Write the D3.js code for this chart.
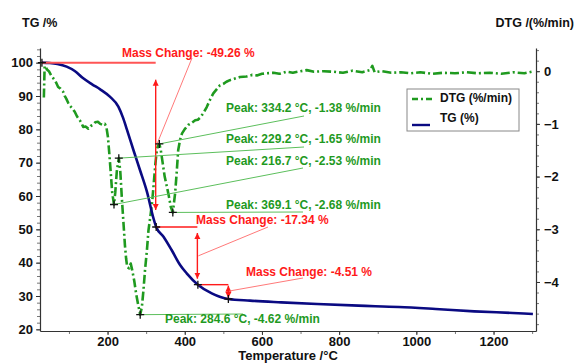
<!DOCTYPE html>
<html>
<head>
<meta charset="utf-8">
<script src="https://cdn.jsdelivr.net/npm/d3@7/dist/d3.min.js"></script>
<style>
  html, body { margin: 0; padding: 0; background: #fff; }
  svg { display: block; font-family: "Liberation Sans", Arial, sans-serif; font-weight: bold; }
</style>
</head>
<body>
<svg id="chart" width="579" height="363"></svg>
<script>
// ---------- DATA ----------
const tgT = [30, 50, 70, 94, 115, 137, 160, 181, 206, 228, 240, 250, 267, 284, 302, 319, 326, 345, 366, 388, 405, 434, 470, 513, 569, 650, 743, 850, 955, 1050, 1150, 1250, 1302];
const tgV = [100, 99.9, 99.6, 98.8, 97.5, 95.3, 93.5, 92.0, 89.8, 86.8, 83.5, 80.0, 73.8, 67.8, 61.3, 53.3, 50.7, 47.8, 43.8, 39.3, 36.8, 33.4, 30.8, 29.1, 28.6, 28.1, 27.6, 27.1, 26.7, 26.1, 25.4, 24.9, 24.6];

const dtgT = [35, 37, 40, 43, 48, 54, 58, 63, 67, 72, 78, 85, 89, 93, 98, 102, 108, 115, 121, 128, 132, 137, 143, 150, 156, 162, 168, 175, 181, 188, 193, 197, 201, 205, 209, 212, 216.7, 220, 224, 229.2, 233, 237, 241, 245, 248, 251, 256, 260, 264, 269, 274, 279, 284.6, 289, 293, 297, 302, 306, 311, 316, 320, 324, 328, 331, 334.2, 338, 343, 348, 354, 359, 364, 369.1, 375, 379, 383, 388, 393, 400, 409, 418, 427, 434, 440, 448, 457, 465, 474, 482, 491, 500, 508, 517, 530, 543, 560, 575, 587, 600, 612, 630, 645, 664, 680, 700, 716, 735, 760, 784, 810, 835, 860, 880, 886, 892, 910, 935, 960, 985, 1010, 1040, 1070, 1100, 1130, 1160, 1190, 1220, 1250, 1280, 1300];
const dtgV = [-0.5, 0.1, 0.08, 0.03, 0.0, -0.08, -0.12, -0.17, -0.22, -0.3, -0.33, -0.39, -0.47, -0.52, -0.6, -0.65, -0.7, -0.77, -0.86, -0.93, -0.98, -1.06, -1.05, -1.09, -1.04, -1.02, -0.97, -0.96, -1.0, -1.02, -1.0, -1.06, -1.25, -1.6, -2.0, -2.3, -2.53, -2.3, -1.9, -1.65, -1.9, -2.4, -2.85, -3.3, -3.55, -3.72, -3.74, -3.65, -3.78, -3.97, -4.22, -4.42, -4.62, -4.47, -4.16, -3.78, -3.4, -3.02, -2.75, -2.45, -2.1, -1.75, -1.48, -1.41, -1.38, -1.5, -1.75, -2.0, -2.2, -2.38, -2.58, -2.68, -2.32, -1.94, -1.5, -1.3, -1.18, -1.1, -1.02, -0.98, -0.93, -0.92, -0.88, -0.8, -0.68, -0.55, -0.42, -0.35, -0.27, -0.24, -0.2, -0.17, -0.14, -0.11, -0.1, -0.07, -0.08, -0.05, -0.04, -0.03, -0.05, -0.01, -0.03, 0.0, 0.02, -0.01, 0.0, -0.01, -0.03, 0.01, -0.02, 0.02, 0.1, -0.02, 0.0, -0.03, -0.02, -0.04, -0.02, -0.05, -0.03, -0.04, -0.02, -0.04, -0.03, -0.05, -0.02, -0.04, -0.01];

const peakT = [334.2, 229.2, 216.7, 369.1, 284.6];
const peakV = [-1.38, -1.65, -2.53, -2.68, -4.62];
const peakLabels = ["Peak: 334.2 °C, -1.38 %/min", "Peak: 229.2 °C, -1.65 %/min", "Peak: 216.7 °C, -2.53 %/min", "Peak: 369.1 °C, -2.68 %/min", "Peak: 284.6 °C, -4.62 %/min"];

// mass change steps: start T, start %, end T, end %
const mcStartT = [30, 326, 434];
const mcStartV = [100, 50.7, 33.4];
const mcEndT = [326, 434, 513];
const mcEndV = [50.7, 33.4, 29.1];
const mcLabels = ["Mass Change: -49.26 %", "Mass Change: -17.34 %", "Mass Change: -4.51 %"];

const xTicks = [200, 400, 600, 800, 1000, 1200];
const yLTicks = [20, 30, 40, 50, 60, 70, 80, 90, 100];
const yRTicks = [0, -1, -2, -3, -4];
const legendLabels = ["DTG (%/min)", "TG (%)"];

// ---------- LAYOUT ----------
const svg = d3.select("#chart");
const L = 40, R = 536, T = 48, B = 331;
const x = d3.scaleLinear().domain([25, 1310]).range([L, R]);
const yL = d3.scaleLinear().domain([19.5, 104.4]).range([B, T]);
const yR = d3.scaleLinear().domain([-4.93, 0.44]).range([B, T]);

const RED = "#ff1a1a", RED_L = "#ff6a6a", GREEN = "#1f9a1f", GREEN_L = "#5cbf5c", NAVY = "#0a0a82";
const AX = "#333";

// arrow markers
const defs = svg.append("defs");
defs.append("marker").attr("id", "ah").attr("viewBox", "0 0 10 10")
  .attr("refX", 10).attr("refY", 5).attr("markerWidth", 6).attr("markerHeight", 7)
  .attr("markerUnits", "userSpaceOnUse").attr("orient", "auto-start-reverse")
  .append("path").attr("d", "M0,0 L10,5 L0,10 Z").attr("fill", RED);

// ---------- AXES ----------
function styleAxis(g, size) {
  g.selectAll("path.domain").attr("stroke", AX).attr("stroke-width", 1.2);
  g.selectAll(".tick line").attr("stroke", AX);
  g.selectAll("text").attr("font-size", size).attr("font-weight", "bold").attr("fill", "#111")
    .attr("font-family", '"Liberation Sans", Arial, sans-serif');
}
// minor ticks
svg.append("g").attr("transform", `translate(0,${B})`)
  .call(d3.axisBottom(x).tickValues(d3.range(100, 1310, 100)).tickSize(3).tickFormat(""))
  .call(g => { g.select(".domain").remove(); g.selectAll("line").attr("stroke", "#777"); });
svg.append("g").attr("transform", `translate(${L},0)`)
  .call(d3.axisLeft(yL).tickValues(d3.range(20, 105, 2)).tickSize(3).tickFormat(""))
  .call(g => { g.select(".domain").remove(); g.selectAll("line").attr("stroke", "#777"); });
svg.append("g").attr("transform", `translate(${R},0)`)
  .call(d3.axisRight(yR).tickValues(d3.range(-48, 5, 2).map(d => d / 10)).tickSize(3).tickFormat(""))
  .call(g => { g.select(".domain").remove(); g.selectAll("line").attr("stroke", "#777"); });

// major axes
svg.append("g").attr("transform", `translate(0,${B})`)
  .call(d3.axisBottom(x).tickValues(xTicks).tickSize(4).tickSizeOuter(0).tickPadding(2).tickFormat(d3.format("d")))
  .call(g => styleAxis(g, 13));
svg.append("g").attr("transform", `translate(${L},0)`)
  .call(d3.axisLeft(yL).tickValues(yLTicks).tickSize(4).tickSizeOuter(0).tickPadding(3))
  .call(g => styleAxis(g, 13));
svg.append("g").attr("transform", `translate(${R},0)`)
  .call(d3.axisRight(yR).tickValues(yRTicks).tickSize(4).tickSizeOuter(0).tickPadding(4).tickFormat(d3.format("d")))
  .call(g => styleAxis(g, 13));

// titles
svg.append("text").attr("x", 22).attr("y", 27).attr("font-size", 12.5).attr("fill", "#111").text("TG /%");
svg.append("text").attr("x", 574).attr("y", 27).attr("text-anchor", "end").attr("font-size", 12.5).attr("fill", "#111").text("DTG /(%/min)");
svg.append("text").attr("x", 288).attr("y", 360).attr("text-anchor", "middle").attr("font-size", 13).attr("fill", "#111").text("Temperature /°C");

// ---------- CURVES ----------
const tgData = tgT.map((t, i) => [t, tgV[i]]);
const dtgData = dtgT.map((t, i) => [t, dtgV[i]]);

svg.append("path").datum(dtgData)
  .attr("d", d3.line().x(d => x(d[0])).y(d => yR(d[1])))
  .attr("fill", "none").attr("stroke", GREEN).attr("stroke-width", 2.6)
  .attr("stroke-dasharray", "9,3,2,3").attr("stroke-linejoin", "round");

svg.append("path").datum(tgData)
  .attr("d", d3.line().curve(d3.curveMonotoneX).x(d => x(d[0])).y(d => yL(d[1])))
  .attr("fill", "none").attr("stroke", NAVY).attr("stroke-width", 2.6);

// ---------- ANNOTATIONS ----------
const font = g => g.attr("font-size", 12).attr("font-weight", "bold");

const mcArrowInset = [17, 6, 1];
const mcLabelPos = [[122, 57], [196, 224], [246, 276]];
const mcLeaderEnd = [[192, 58], [268, 227], [303, 278]];
mcLabels.forEach((lab, i) => {
  const x0 = x(mcStartT[i]);
  const ya = yL(mcStartV[i]), yb = yL(mcEndV[i]);
  const xArrow = x(mcEndT[i]) - (i === 2 ? 0 : 0.5);
  svg.append("line").attr("x1", x0).attr("x2", xArrow).attr("y1", ya).attr("y2", ya)
    .attr("stroke", i === 0 ? "#ff5555" : RED).attr("stroke-width", i === 0 ? 2 : 1.4);
  const ins = mcArrowInset[i];
  svg.append("line").attr("x1", xArrow).attr("x2", xArrow).attr("y1", ya + ins).attr("y2", yb - ins)
    .attr("stroke", RED).attr("stroke-width", 1.4)
    .attr("marker-start", "url(#ah)").attr("marker-end", "url(#ah)");
  const ym = (ya + yb) / 2;
  svg.append("line").attr("x1", xArrow + 1).attr("y1", i === 2 ? yb - 8 : ym)
    .attr("x2", mcLeaderEnd[i][0]).attr("y2", mcLeaderEnd[i][1])
    .attr("stroke", RED_L).attr("stroke-width", 0.9);
  svg.append("text").attr("x", mcLabelPos[i][0]).attr("y", mcLabelPos[i][1]).attr("fill", RED).call(font).text(lab);
});

const peakLabelPos = [[226, 112], [226, 143], [226, 165], [226, 209], [165, 323]];
const peakLeaderEnd = [[304, 116], [304, 147], [303, 168], [303, 212], [243, 314]];
peakLabels.forEach((lab, i) => {
  const px = x(peakT[i]), py = yR(peakV[i]);
  svg.append("line").attr("x1", px).attr("y1", py).attr("x2", peakLeaderEnd[i][0]).attr("y2", peakLeaderEnd[i][1])
    .attr("stroke", GREEN_L).attr("stroke-width", 1);
  svg.append("text").attr("x", peakLabelPos[i][0]).attr("y", peakLabelPos[i][1]).attr("fill", GREEN).call(font).text(lab);
});

const crosses = peakT.map((t, i) => [x(t), yR(peakV[i])])
  .concat(mcStartT.map((t, i) => [x(t), yL(mcStartV[i])]))
  .concat([[x(mcEndT[2]), yL(mcEndV[2])]]);
crosses.forEach(([cx, cy]) => {
  svg.append("path").attr("d", `M${cx - 4},${cy}H${cx + 4}M${cx},${cy - 4}V${cy + 4}`)
    .attr("stroke", "#111").attr("stroke-width", 1.3);
});

// ---------- LEGEND ----------
const lg = svg.append("g");
lg.append("rect").attr("x", 407).attr("y", 89).attr("width", 112).attr("height", 42)
  .attr("fill", "#fff").attr("stroke", "#888").attr("stroke-width", 1);
lg.append("line").attr("x1", 412).attr("x2", 432).attr("y1", 99).attr("y2", 99)
  .attr("stroke", GREEN).attr("stroke-width", 2.4).attr("stroke-dasharray", "6,3,2,3");
lg.append("line").attr("x1", 412).attr("x2", 430).attr("y1", 125).attr("y2", 125)
  .attr("stroke", NAVY).attr("stroke-width", 2.4);
lg.append("text").attr("x", 440).attr("y", 102).attr("font-size", 12).attr("fill", "#111").text(legendLabels[0]);
lg.append("text").attr("x", 440).attr("y", 122).attr("font-size", 12).attr("fill", "#111").text(legendLabels[1]);
</script>
</body>
</html>
